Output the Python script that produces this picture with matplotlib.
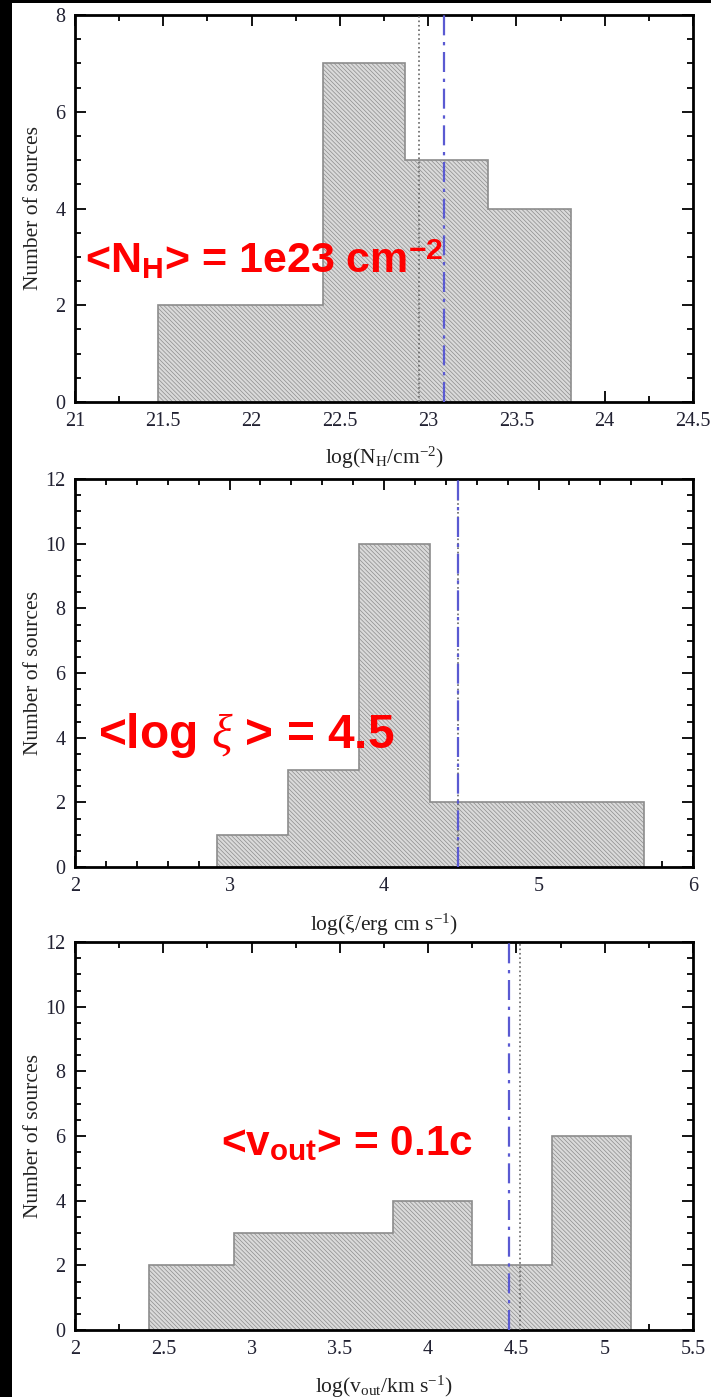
import numpy as np
import matplotlib.pyplot as plt
from matplotlib.ticker import MultipleLocator, FuncFormatter
from matplotlib.patches import Rectangle

# log(N_H) histogram
nh_edges = [21.47, 21.94, 22.405, 22.87, 23.34, 23.81]
nh_counts = [2, 2, 7, 5, 4]
nh_dotted = 22.95
nh_dashdot = 23.09

# log(xi) histogram
xi_edges = [2.92, 3.38, 3.84, 4.30, 4.76, 5.22, 5.68]
xi_counts = [1, 3, 10, 2, 2, 2]
xi_dotted = 4.48
xi_dashdot = 4.48

# log(v_out) histogram
v_edges = [2.42, 2.90, 3.35, 3.80, 4.25, 4.70, 5.15]
v_counts = [2, 3, 3, 4, 2, 6]
v_dotted = 4.52
v_dashdot = 4.46

plt.rcParams['hatch.linewidth'] = 0.5
plt.rcParams['mathtext.fontset'] = 'custom'
plt.rcParams['mathtext.it'] = 'Liberation Serif:italic'
plt.rcParams['mathtext.rm'] = 'Liberation Serif'

W, H = 711, 1397
serif = ['Liberation Serif', 'DejaVu Serif']
sans = ['Liberation Sans', 'DejaVu Sans']


def draw_panel(fig, top, bottom, edges, counts, dotted, dashdot, xlim, ylim,
               xmajor, xminor, xlabel, xlabel_y):
    ax = fig.add_axes([75 / W, (H - bottom) / H, 618 / W, (bottom - top) / H])
    ax.stairs(counts, edges, fill=True, facecolor='#dadada', edgecolor='#8c8c8c',
              hatch='\\' * 8, linewidth=1.2, zorder=2)
    ax.axvline(dotted, color='#666666', ls=':', lw=1.2, zorder=3)
    ax.axvline(dashdot, color='#5a5ad2', ls=(0, (9, 3, 1.5, 3)), lw=1.6, zorder=4)
    ax.set_xlim(*xlim)
    ax.set_ylim(*ylim)
    ax.xaxis.set_major_locator(MultipleLocator(xmajor))
    ax.xaxis.set_minor_locator(MultipleLocator(xminor))
    ax.yaxis.set_major_locator(MultipleLocator(2))
    ax.yaxis.set_minor_locator(MultipleLocator(0.5))
    ax.xaxis.set_major_formatter(FuncFormatter(lambda v, p: f'{v:g}'))
    ax.tick_params(which='both', direction='in', top=True, right=True, width=1.3,
                   labelsize=14.5, labelcolor='#222233', pad=7)
    ax.tick_params(which='major', length=8)
    ax.tick_params(which='minor', length=4)
    for lab in ax.get_xticklabels() + ax.get_yticklabels():
        lab.set_family(serif)
    for s in ax.spines.values():
        s.set_linewidth(2)
    ax.set_xlabel(xlabel, fontsize=15.5, family=serif, color='#222222')
    ax.set_ylabel('Number of sources', fontsize=15.5, family=serif, color='#222222')
    ax.xaxis.set_label_coords(0.5, xlabel_y)
    ax.yaxis.set_label_coords(-0.052, 0.5)
    return ax


fig = plt.figure(figsize=(W / 100, H / 100), dpi=100, facecolor='black')
fig.add_artist(Rectangle((12 / W, 0), 1, 1 - 3 / H, transform=fig.transFigure,
                         facecolor='white', edgecolor='none', zorder=-10))

ax1 = draw_panel(fig, 15, 402, nh_edges, nh_counts, nh_dotted, nh_dashdot,
                 (21, 24.5), (0, 8), 0.5, 0.25,
                 r'log(N$_\mathregular{H}$/cm$^\mathregular{-2}$)', -0.11)
ax1.text(0.016, 0.333, r'<N$_\mathregular{H}$> = 1e23 cm$^\mathregular{-2}$',
         transform=ax1.transAxes, va='baseline', ha='left', fontsize=31,
         fontweight='bold', family=sans, color='#ff0000', zorder=6)

ax2 = draw_panel(fig, 479, 867, xi_edges, xi_counts, xi_dotted, xi_dashdot,
                 (2, 6), (0, 12), 1, 0.2,
                 r'log($\mathregular{\xi}$/erg cm s$^\mathregular{-1}$)', -0.116)
ax2.text(0.038, 0.307, r'<log $\xi$ > = 4.5',
         transform=ax2.transAxes, va='baseline', ha='left', fontsize=34.5,
         fontweight='bold', family=sans, color='#ff0000', zorder=6)

ax3 = draw_panel(fig, 942, 1330, v_edges, v_counts, v_dotted, v_dashdot,
                 (2, 5.5), (0, 12), 0.5, 0.25,
                 r'log(v$_\mathregular{out}$/km s$^\mathregular{-1}$)', -0.112)
ax3.text(0.236, 0.451, r'<v$_\mathregular{out}$> = 0.1c',
         transform=ax3.transAxes, va='baseline', ha='left', fontsize=30.5,
         fontweight='bold', family=sans, color='#ff0000', zorder=6)

fig.savefig('out.png', dpi=100, facecolor=fig.get_facecolor())
